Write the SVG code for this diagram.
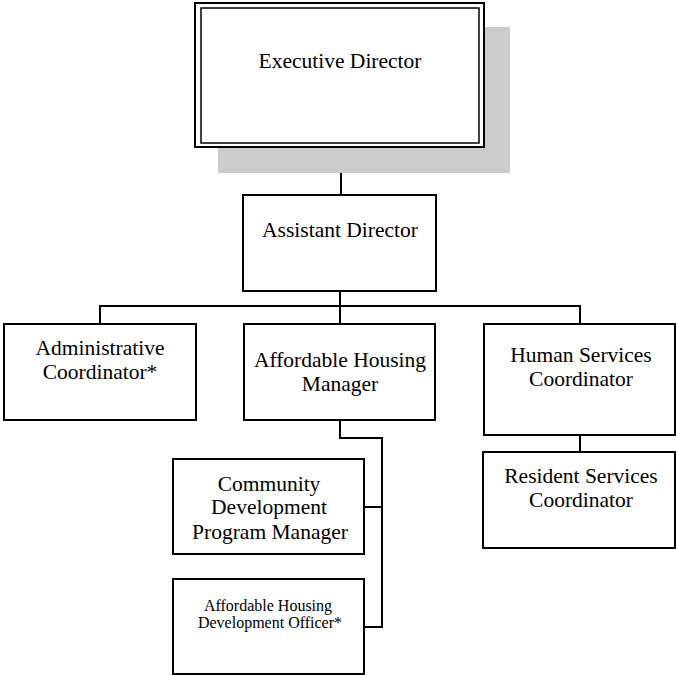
<svg xmlns="http://www.w3.org/2000/svg" width="676" height="675" viewBox="0 0 676 675">
<style>
.box{fill:#ffffff;stroke:#000000;stroke-width:2}
.con{fill:none;stroke:#000000;stroke-width:2}
.t{font-family:"Liberation Serif","Times New Roman",serif;font-size:21.5px;fill:#000000;text-anchor:middle}
.s{font-size:16px}
</style>
<defs>
<filter id="blur" x="-5%" y="-5%" width="110%" height="110%"><feGaussianBlur stdDeviation="0.7"/></filter>
</defs>
<g id="connectors">
<path class="con" d="M341 147 V195"/>
<path class="con" d="M340 291 V324"/>
<path class="con" d="M100 324 V306 H580 V324"/>
<path class="con" d="M340 420 V438 H382 V627 H364"/>
<path class="con" d="M364 507 H382"/>
<path class="con" d="M580 435 V452"/>
</g>
<g id="executive-director">
<rect x="218" y="27" width="292" height="146" fill="#cccccc" filter="url(#blur)"/>
<rect x="195" y="3" width="289" height="144" fill="#ffffff" stroke="#000" stroke-width="2"/>
<rect x="201" y="8" width="278" height="135" fill="none" stroke="#000" stroke-width="1.5"/>
<text class="t" x="340" y="68">Executive Director</text>
</g>
<g id="assistant-director">
<rect class="box" x="243" y="195" width="193" height="96"/>
<text class="t" x="340" y="237">Assistant Director</text>
</g>
<g id="administrative-coordinator">
<rect class="box" x="4" y="324" width="192" height="96"/>
<text class="t" x="100" y="355">Administrative</text>
<text class="t" x="100" y="379">Coordinator*</text>
</g>
<g id="affordable-housing-manager">
<rect class="box" x="244" y="324" width="191" height="96"/>
<text class="t" x="340" y="367">Affordable Housing</text>
<text class="t" x="340" y="391">Manager</text>
</g>
<g id="human-services-coordinator">
<rect class="box" x="484" y="324" width="191" height="111"/>
<text class="t" x="581" y="362">Human Services</text>
<text class="t" x="581" y="386">Coordinator</text>
</g>
<g id="community-development-program-manager">
<rect class="box" x="173" y="459" width="191" height="95"/>
<text class="t" x="269" y="491">Community</text>
<text class="t" x="269" y="514">Development</text>
<text class="t" x="270" y="539">Program Manager</text>
</g>
<g id="resident-services-coordinator">
<rect class="box" x="483" y="452" width="192" height="96"/>
<text class="t" x="581" y="483">Resident Services</text>
<text class="t" x="581" y="507">Coordinator</text>
</g>
<g id="affordable-housing-development-officer">
<rect class="box" x="173" y="579" width="191" height="95"/>
<text class="t s" x="268" y="611">Affordable Housing</text>
<text class="t s" x="270" y="628">Development Officer*</text>
</g>
</svg>
